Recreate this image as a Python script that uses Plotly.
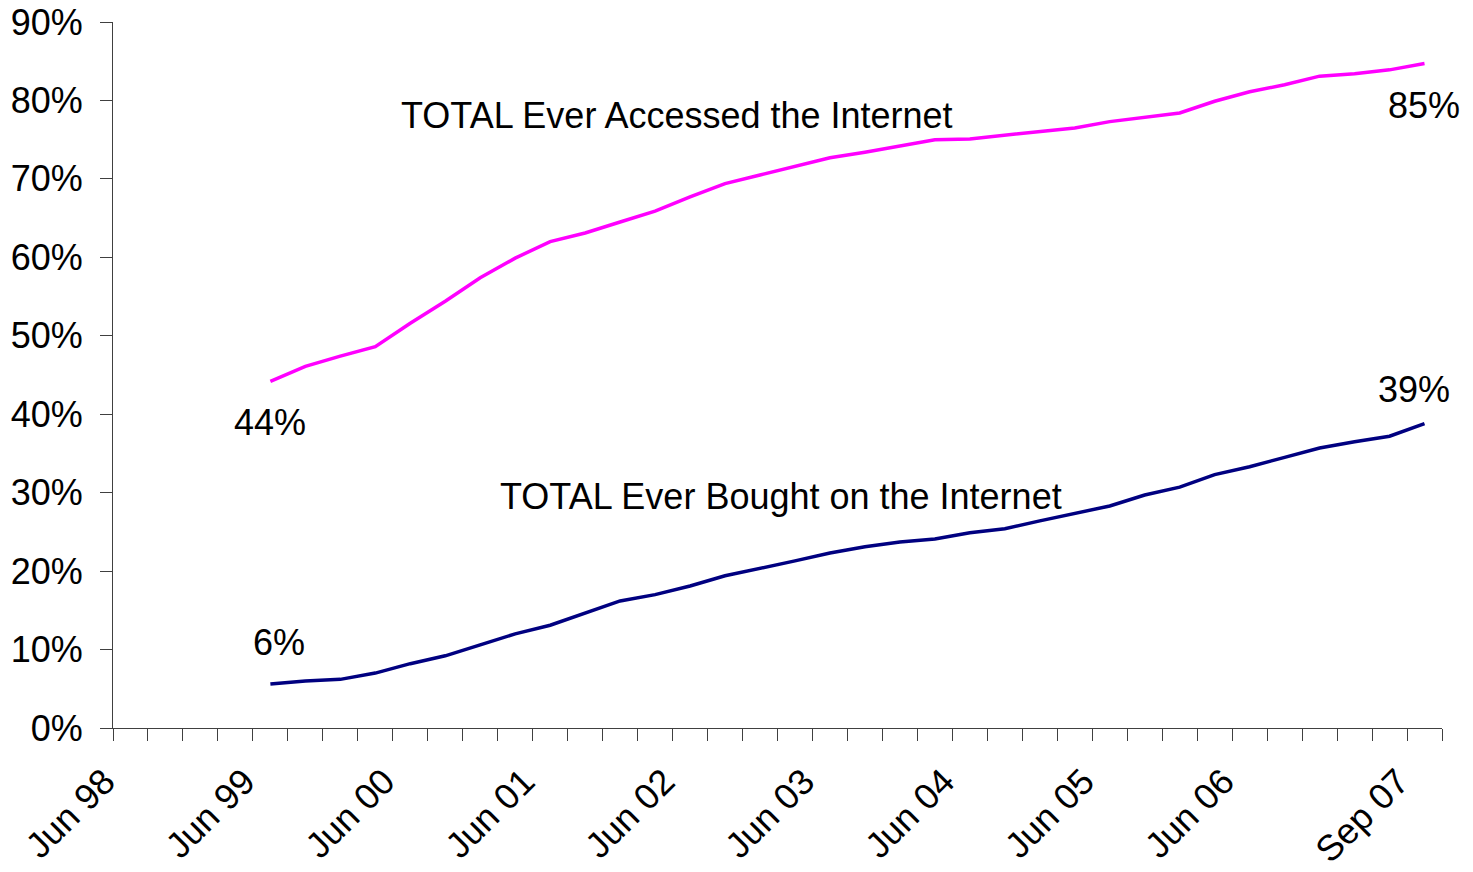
import plotly.graph_objects as go

# Quarterly categories Jun 98 .. Sep 07
months = ["Jun", "Sep", "Dec", "Mar"]
categories = []
y, q = 98, 0
for i in range(38):
    m = months[q]
    yr = y if m != "Mar" else y + 1
    categories.append(f"{m} {yr % 100:02d}")
    q = (q + 1) % 4
    if q == 0:
        y += 1

tick_labels = ["Jun 98", "Jun 99", "Jun 00", "Jun 01", "Jun 02", "Jun 03",
               "Jun 04", "Jun 05", "Jun 06", "Sep 07"]

data_categories = categories[4:]  # Jun 99 .. Sep 07

accessed = [44.2, 46.1, 47.4, 48.6, 51.6, 54.4, 57.4, 59.9, 62.0, 63.1,
            64.5, 65.9, 67.7, 69.4, 70.5, 71.6, 72.7, 73.4, 74.2, 75.0,
            75.1, 75.6, 76.1, 76.5, 77.3, 77.8, 78.4, 79.9, 81.1, 82.0,
            83.1, 83.4, 83.9, 84.7]
bought = [5.6, 6.0, 6.2, 7.0, 8.2, 9.2, 10.6, 12.0, 13.1, 14.7,
          16.2, 17.0, 18.1, 19.4, 20.3, 21.3, 22.3, 23.1, 23.7, 24.1,
          24.9, 25.4, 26.4, 27.3, 28.3, 29.7, 30.7, 32.3, 33.3, 34.5,
          35.7, 36.5, 37.2, 38.8]

y_ticks = [0, 10, 20, 30, 40, 50, 60, 70, 80, 90]
y_tick_text = [f"{v}%" for v in y_ticks]

FONT = "Liberation Sans, Arial, sans-serif"
FS = 36

fig = go.Figure()
fig.add_trace(go.Scatter(x=data_categories, y=accessed, mode="lines",
                         line=dict(color="#FF00FF", width=3.5),
                         name="TOTAL Ever Accessed the Internet"))
fig.add_trace(go.Scatter(x=data_categories, y=bought, mode="lines",
                         line=dict(color="#000080", width=3.5),
                         name="TOTAL Ever Bought on the Internet"))

ticktext = [c if c in tick_labels else "" for c in categories]

fig.update_xaxes(type="category", categoryorder="array", categoryarray=categories,
                 range=[-0.5, len(categories) - 0.5],
                 tickmode="array", tickvals=categories, ticktext=ticktext,
                 tickson="boundaries", ticks="outside", ticklen=12,
                 tickcolor="#404040", tickwidth=1,
                 showline=True, linecolor="#404040", linewidth=1,
                 showgrid=False, zeroline=False, tickangle=-45,
                 ticklabelstandoff=17, ticklabelshift=-26,
                 tickfont=dict(family=FONT, size=FS, color="black"))
fig.update_yaxes(range=[0, 90], tickmode="array",
                 tickvals=y_ticks, ticktext=y_tick_text,
                 ticks="outside", ticklen=12,
                 tickcolor="#404040", tickwidth=1,
                 showline=True, linecolor="#404040", linewidth=1,
                 showgrid=False, zeroline=False, ticklabelstandoff=10,
                 ticklabeloverflow="allow",
                 tickfont=dict(family=FONT, size=FS, color="black"))

annots = [
    ("TOTAL Ever Accessed the Internet", 15.62, 78.1),
    ("TOTAL Ever Bought on the Internet", 18.59, 29.45),
    ("44%", 3.99, 39.0),
    ("6%", 4.24, 10.84),
    ("85%", 36.98, 79.4),
    ("39%", 36.71, 43.1),
]
for text, xi, yv in annots:
    fig.add_annotation(x=xi, y=yv, xref="x", yref="y", text=text, showarrow=False,
                       font=dict(family=FONT, size=FS, color="black"))

fig.update_layout(width=1473, height=872, showlegend=False,
                  plot_bgcolor="white", paper_bgcolor="white",
                  margin=dict(l=113, r=31, t=22, b=144, autoexpand=False))

fig.write_html("out.html", config={"displayModeBar": False},
               post_script="document.body.style.margin='0';document.body.style.overflow='hidden';")
